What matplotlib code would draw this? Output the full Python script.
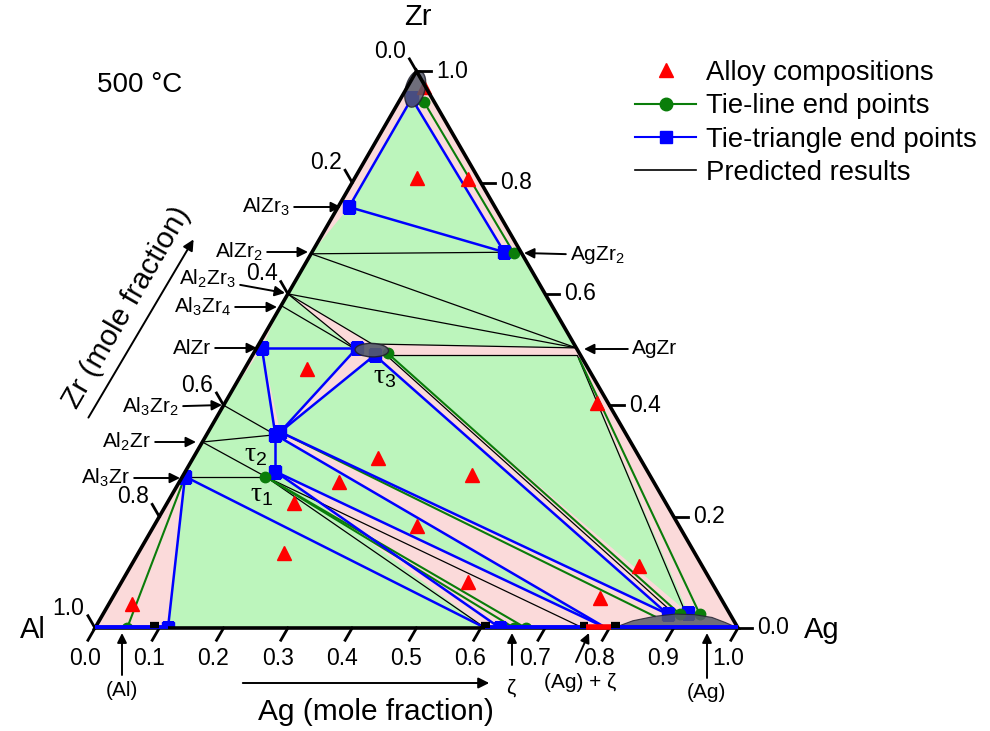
"""
Al-Ag-Zr isothermal section at 500 C -> out.png
"""
import numpy as np
import matplotlib.pyplot as plt
from matplotlib.patches import Polygon, Ellipse
from matplotlib.lines import Line2D

plt.rcParams['font.family'] = ['Liberation Sans', 'DejaVu Sans']
plt.rcParams['mathtext.fontset'] = 'custom'
plt.rcParams['mathtext.rm'] = 'Liberation Sans'
plt.rcParams['mathtext.it'] = 'Liberation Sans:italic'

S3 = np.sqrt(3) / 2

# ---------------------------------------------------------------
# data  (compositions as Ag, Zr mole fractions)
# ---------------------------------------------------------------
point_names = ["Zr_b", "Zr_g", "AlZr3_b", "AgZr2_b", "AgZr2_g", "AgZr2_e",
               "AlZr2", "Al2Zr3", "Al3Zr4", "AlZr_b",
               "t3_b1", "t3_b2", "t3_g", "t3_kt", "t3_kl", "t3_kr",
               "AgZr_a", "AgZr_b", "AgZr_g",
               "Al3Zr2", "t2_a", "t2_b", "Al2Zr", "t1_b", "t1_g", "Al3Zr_b",
               "Al_g", "Al_b", "z_k", "z_b", "z_g1", "z_g2",
               "AgZ_k1", "AgL_b", "Ag_g0", "Ag_b1", "Ag_g1", "Ag_b2", "Ag_g2",
               "Ag_k1", "Ag_k2"]
point_ag = [0.017, 0.039, 0.017, 0.299, 0.315, 0.325,
            0.000, 0.000, 0.000, 0.008,
            0.156, 0.190, 0.209, 0.176, 0.158, 0.208,
            0.497, 0.505, 0.510,
            0.000, 0.107, 0.112, 0.000, 0.140, 0.129, 0.004,
            0.050, 0.1135, 0.607, 0.630, 0.652, 0.670,
            0.759, 0.795, 0.862, 0.878, 0.897, 0.909, 0.928,
            0.890, 0.905]
point_zr = [0.951, 0.945, 0.756, 0.675, 0.673, 0.675,
            0.672, 0.600, 0.579, 0.503,
            0.503, 0.490, 0.493, 0.510, 0.499, 0.490,
            0.503, 0.490, 0.485,
            0.400, 0.347, 0.352, 0.334, 0.281, 0.272, 0.272,
            0.000, 0.000, 0.000, 0.000, 0.000, 0.000,
            0.000, 0.000, 0.020, 0.025, 0.025, 0.027, 0.025,
            0.024, 0.027]

# three-phase (tie-triangle) regions
green_regions = [("Zr_b", "AlZr3_b", "AgZr2_b"),
                 ("AlZr3_b", "AlZr2", "AgZr2_e"),
                 ("AlZr2", "AgZr2_e", "AgZr_a"),
                 ("AlZr2", "Al2Zr3", "AgZr_a"),
                 ("Al2Zr3", "t3_kt", "AgZr_a"),
                 ("Al2Zr3", "Al3Zr4", "t3_kl"),
                 ("Al3Zr4", "AlZr_b", "t3_b1"),
                 ("AlZr_b", "t3_b1", "t2_b"),
                 ("AlZr_b", "t2_a", "Al3Zr2"),
                 ("Al3Zr2", "t2_a", "Al2Zr"),
                 ("Al2Zr", "t2_a", "t1_b"),
                 ("Al2Zr", "t1_b", "Al3Zr_b"),
                 ("Al3Zr_b", "t1_b", "z_k"),
                 ("Al3Zr_b", "z_k", "Al_b"),
                 ("t2_b", "t3_b2", "Ag_b1"),
                 ("t3_kr", "AgZr_b", "Ag_b2"),
                 ("t1_b", "t2_a", "AgL_b")]

blue_lines = [("Zr_b", "AlZr3_b"), ("Zr_b", "AgZr2_b"), ("AlZr3_b", "AgZr2_b"),
              ("AlZr_b", "t3_b1"), ("AlZr_b", "t2_a"), ("t2_b", "t3_b1"),
              ("t2_b", "t3_b2"), ("t3_b2", "Ag_b1"), ("t2_b", "Ag_b1"),
              ("t2_a", "AgL_b"), ("t1_b", "AgL_b"), ("t2_a", "t1_b"),
              ("t1_b", "z_b"), ("Al3Zr_b", "z_k"), ("Al3Zr_b", "Al_b")]

green_lines = [("Zr_g", "AgZr2_g"), ("t3_g", "Ag_g1"), ("AgZr_g", "Ag_g2"),
               ("t2_b", "Ag_g0"), ("t1_g", "z_g1"), ("t1_g", "z_g2"),
               ("Al3Zr_b", "Al_g")]

black_lines = [("AlZr2", "AgZr2_e"), ("AlZr2", "AgZr_a"), ("Al2Zr3", "AgZr_a"),
               ("Al2Zr3", "t3_kt"), ("Al2Zr3", "t3_kl"), ("Al3Zr4", "t3_kl"),
               ("t3_kt", "AgZr_a"), ("t3_kr", "AgZr_b"),
               ("t3_kr", "Ag_k1"), ("AgZr_b", "Ag_k2"),
               ("Al3Zr2", "t2_a"), ("Al2Zr", "t2_a"), ("Al2Zr", "t1_g"),
               ("Al3Zr_b", "t1_g"), ("t1_g", "z_k"), ("t1_g", "AgZ_k1")]

blue_markers = ["Zr_b", "AlZr3_b", "AgZr2_b", "AlZr_b", "t3_b1", "t3_b2",
                "t2_a", "t2_b", "t1_b", "Al3Zr_b", "Al_b", "z_b",
                "Ag_b1", "Ag_b2"]
green_markers = ["Zr_g", "AgZr2_g", "t3_g", "t1_g", "Al_g", "z_g1", "z_g2",
                 "Ag_g1", "Ag_g2"]

# alloy compositions
alloy_ag = [0.096, 0.177, 0.026, 0.097, 0.579, 0.288, 0.449, 0.248,
            0.197, 0.409, 0.227, 0.539, 0.790, 0.758, 0.036]
alloy_zr = [0.808, 0.806, 0.971, 0.465, 0.404, 0.305, 0.275, 0.262,
            0.2245, 0.183, 0.1347, 0.0826, 0.111, 0.0539, 0.043]

# binary Al-Ag edge (Ag fraction ranges)
edge_blue = [(0.0, 0.1135), (0.607, 1.0)]
edge_red = [(0.764, 0.802)]
edge_black = [(0.085, 0.100), (0.600, 0.614), (0.755, 0.766), (0.803, 0.816)]

# predicted (Ag) solid solution
dome_ag = [0.806, 0.83, 0.86, 0.89, 0.92, 0.95, 0.975, 1.0]
dome_zr = [0.0, 0.013, 0.021, 0.025, 0.024, 0.019, 0.010, 0.0]

ticks_major = [0.0, 0.2, 0.4, 0.6, 0.8, 1.0]
ticks_bottom = [0.0, 0.1, 0.2, 0.3, 0.4, 0.5, 0.6, 0.7, 0.8, 0.9, 1.0]

PT = dict(zip(point_names, zip(point_ag, point_zr)))

BLUE, GREEN, PINK, LGREEN = "#0000ff", "#0a7d0a", "#fbdada", "#bcf5bc"
GRAY = "#565b6b"


def tern(ag, zr):
    ag = np.asarray(ag, float)
    zr = np.asarray(zr, float)
    return ag + zr / 2, zr * S3


def xy(name):
    return tern(*PT[name])


def px(x, y):
    # pixel in the 990x731 image -> plot coordinates
    return (x - 95) / 643, (628 - y) / 643


fig = plt.figure(figsize=(9.9, 7.31), dpi=100)
ax = fig.add_axes([0, 0, 1, 1])
ax.set_xlim(-95 / 643, 895 / 643)
ax.set_ylim(-103 / 643, 628 / 643)
ax.axis("off")

corners = np.array([[0, 0], [1, 0], [0.5, S3]])
clip = Polygon(corners, closed=True, transform=ax.transData, fill=False)

# ---------- regions ----------
pink = Polygon(corners, closed=True, facecolor=PINK, edgecolor="none", zorder=0)
ax.add_patch(pink)
for reg in green_regions:
    verts = [xy(n) for n in reg]
    p = Polygon(verts, closed=True, facecolor=LGREEN, edgecolor="none", zorder=1)
    ax.add_patch(p)
    p.set_clip_path(clip)


def seg(a, b, **kw):
    xa, ya = xy(a)
    xb, yb = xy(b)
    ln, = ax.plot([xa, xb], [ya, yb], solid_capstyle="butt", **kw)
    ln.set_clip_path(clip)


for a, b in black_lines:
    seg(a, b, color="black", lw=0.9, zorder=2)
for a, b in green_lines:
    seg(a, b, color=GREEN, lw=1.5, zorder=3)
for a, b in blue_lines:
    seg(a, b, color=BLUE, lw=1.8, zorder=3)

# binary edge
for lo, hi in edge_blue:
    ax.plot([lo, hi], [0.002, 0.002], color=BLUE, lw=2.8, zorder=8,
            solid_capstyle="butt")
for lo, hi in edge_black:
    ax.plot([lo, hi], [0.004, 0.004], color="black", lw=4.5, zorder=8,
            solid_capstyle="butt")
for lo, hi in edge_red:
    ax.plot([lo, hi], [0.001, 0.001], color="red", lw=4, zorder=9,
            solid_capstyle="butt")

# markers
bx, by = tern([PT[n][0] for n in blue_markers], [PT[n][1] for n in blue_markers])
m, = ax.plot(bx, by, ls="none", marker="s", ms=8, color=BLUE, zorder=5)
m.set_clip_path(clip)
gx, gy = tern([PT[n][0] for n in green_markers], [PT[n][1] for n in green_markers])
m, = ax.plot(gx, gy, ls="none", marker="o", ms=7.5, color=GREEN, zorder=5)
m.set_clip_path(clip)
ax_, ay_ = tern(alloy_ag, alloy_zr)
ax.plot(ax_, ay_, ls="none", marker="^", ms=9.5, color="red", zorder=5)

# predicted single-phase regions
e = Ellipse(tern(0.181, 0.499), 0.052, 0.021, angle=-2, facecolor=GRAY,
            edgecolor="#222230", lw=1.0, alpha=0.92, zorder=6)
ax.add_patch(e)
e = Ellipse(tern(0.014, 0.968), 0.030, 0.058, angle=-15, facecolor=GRAY,
            edgecolor="#222230", lw=1.0, alpha=0.85, zorder=6)
ax.add_patch(e)
dx, dy = tern(dome_ag, dome_zr)
d = Polygon(np.column_stack([dx, dy]), closed=True, facecolor=GRAY,
            edgecolor="#222230", lw=0.8, alpha=0.85, zorder=6)
ax.add_patch(d)

# ---------- frame + ticks ----------
ax.add_patch(Polygon(corners, closed=True, fill=False, edgecolor="black",
                     lw=2.6, zorder=7, joinstyle="miter"))
L = 0.022
TFS = 16.5
for v in ticks_major:
    # left edge (Al fraction labels)
    x0, y0 = tern(0, 1 - v)
    ax.plot([x0, x0 - 0.5 * L], [y0, y0 + S3 * L], color="black", lw=2, zorder=7)
    ax.text(x0 - 0.041, y0 + 0.031, f"{v:.1f}", fontsize=TFS, ha="center", va="center")
    # right edge (Zr fraction)
    x0, y0 = tern(1 - v, v)
    ax.plot([x0, x0 + L], [y0, y0], color="black", lw=2, zorder=7)
    ax.text(x0 + 0.030, y0, f"{v:.1f}", fontsize=TFS, ha="left", va="center")
for v in ticks_bottom:
    x0, y0 = tern(v, 0)
    ax.plot([x0, x0 - 0.5 * L], [y0, y0 - S3 * L], color="black", lw=2, zorder=7)
    ax.text(x0 - 0.016, -0.047, f"{v:.1f}", fontsize=TFS, ha="center", va="center")

# ---------- text ----------
ax.text(*px(418, 17), "Zr", fontsize=21, ha="center", va="center")
ax.text(*px(33, 630), "Al", fontsize=21, ha="center", va="center")
ax.text(*px(822, 630), "Ag", fontsize=21, ha="center", va="center")
ax.text(*px(140, 85), "500 °C", fontsize=20, ha="center", va="center")

ax.text(*px(376, 712), "Ag (mole fraction)", fontsize=21.5, ha="center", va="center")
ax.annotate("", xy=px(492, 683), xytext=px(240, 683),
            arrowprops=dict(arrowstyle="-|>", color="black", lw=1.4, mutation_scale=16))
ax.text(*px(127, 307), "Zr (mole fraction)", fontsize=21.5, ha="center",
        va="center", rotation=60, rotation_mode="anchor")
ax.annotate("", xy=px(195, 237), xytext=px(87, 420),
            arrowprops=dict(arrowstyle="-|>", color="black", lw=1.4, mutation_scale=16))

arw = dict(arrowstyle="-|>", color="black", lw=1.4, mutation_scale=15,
           shrinkA=1, shrinkB=0)
CFS = 15
left_labels = [("AlZr$_3$", (290, 207), (341, 207)),
               ("AlZr$_2$", (263, 252), (308, 252)),
               ("Al$_2$Zr$_3$", (236, 279), (285, 293)),
               ("Al$_3$Zr$_4$", (231, 307), (277, 307)),
               ("AlZr", (211, 348), (257, 348)),
               ("Al$_3$Zr$_2$", (179, 407), (222, 405)),
               ("Al$_2$Zr", (151, 442), (196, 442)),
               ("Al$_3$Zr", (130, 478), (180, 478))]
for lbl, t, tgt in left_labels:
    ax.annotate(lbl, xy=px(*tgt), xytext=px(*t), fontsize=CFS, ha="right",
                va="center", arrowprops=arw)
for lbl, t, tgt in [("AgZr$_2$", (570, 255), (524, 253)),
                    ("AgZr", (632, 349), (584, 349))]:
    ax.annotate(lbl, xy=px(*tgt), xytext=px(*t), fontsize=CFS, ha="left",
                va="center", arrowprops=arw)

for lbl, t in [("(Al)", (122, 690)), ("ζ", (511, 688)),
               ("(Ag) + ζ", (580, 683)), ("(Ag)", (706, 692))]:
    ax.text(*px(*t), lbl, fontsize=CFS, ha="center", va="center")
for x0, y0, x1, y1 in [(122, 675, 122, 633), (512, 665, 512, 633),
                       (576, 662, 589, 633), (707, 678, 707, 633)]:
    ax.annotate("", xy=px(x1, y1), xytext=px(x0, y0),
                arrowprops=dict(arrowstyle="-|>", color="black", lw=1.4,
                                mutation_scale=14, shrinkA=0, shrinkB=0))

for lbl, pos in [("τ$_3$", (385, 377)), ("τ$_2$", (256, 455)), ("τ$_1$", (262, 496))]:
    ax.text(*px(*pos), lbl, fontsize=20, ha="center", va="center",
            family=["Liberation Serif", "DejaVu Serif"])

# ---------- legend ----------
handles = [Line2D([], [], ls="none", marker="^", ms=10, color="red"),
           Line2D([], [], color=GREEN, lw=1.5, marker="o", ms=9),
           Line2D([], [], color=BLUE, lw=1.5, marker="s", ms=8),
           Line2D([], [], color="black", lw=1.2)]
labels = ["Alloy compositions", "Tie-line end points",
          "Tie-triangle end points", "Predicted results"]
ax.legend(handles, labels, loc="upper left", bbox_to_anchor=(0.628, 0.937),
          frameon=False, fontsize=19.8, handlelength=2.2, handletextpad=0.35,
          labelspacing=0.27, borderpad=0)

fig.savefig("out.png", dpi=100)
